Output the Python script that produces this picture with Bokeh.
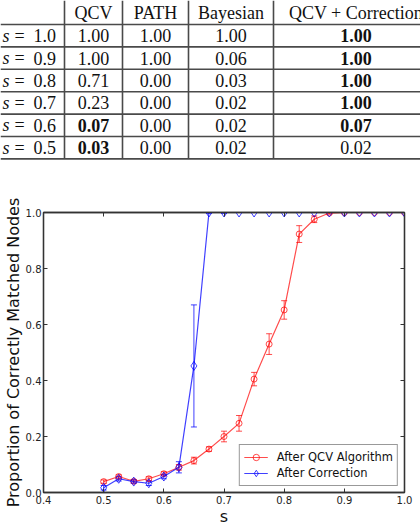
from bokeh.plotting import figure
from bokeh.models import (ColumnDataSource, Range1d, LinearAxis, FixedTicker,
                          PrintfTickFormatter, Whisker, TeeHead, Legend, LegendItem)
from bokeh.core.properties import value
from bokeh.embed import file_html
from bokeh.resources import INLINE

# ---------------- table data ----------------
ROW_S = ["1.0", "0.9", "0.8", "0.7", "0.6", "0.5"]
HEADERS = ["QCV", "PATH", "Bayesian", "QCV + Correction"]
QCV_TAB = [1.00, 1.00, 0.71, 0.23, 0.07, 0.03]
PATH_TAB = [1.00, 1.00, 0.00, 0.00, 0.00, 0.00]
BAYES_TAB = [1.00, 0.06, 0.03, 0.02, 0.02, 0.02]
CORR_TAB = [1.00, 1.00, 1.00, 1.00, 0.07, 0.02]
QCV_BOLD = [False, False, False, False, True, True]
PATH_BOLD = [False] * 6
BAYES_BOLD = [False] * 6
CORR_BOLD = [True, True, True, True, True, False]

# ---------------- chart data ----------------
S = [0.5, 0.525, 0.55, 0.575, 0.6, 0.625, 0.65, 0.675, 0.7, 0.725, 0.75,
     0.775, 0.8, 0.825, 0.85, 0.875, 0.9, 0.925, 0.95, 0.975, 1.0]
QCV_Y = [0.039, 0.057, 0.040, 0.049, 0.067, 0.090, 0.114, 0.155, 0.200, 0.247, 0.405,
         0.530, 0.652, 0.923, 0.976, 0.998, 1.0, 1.0, 1.0, 1.0, 1.0]
QCV_ERR = [0.006, 0.006, 0.006, 0.007, 0.007, 0.010, 0.012, 0.008, 0.019, 0.028, 0.024,
           0.037, 0.033, 0.030, 0.012, 0.004, 0.0, 0.0, 0.0, 0.0, 0.0]
CORR_Y = [0.017, 0.049, 0.039, 0.033, 0.057, 0.090, 0.452, 1.0, 1.0, 1.0, 1.0,
          1.0, 1.0, 1.0, 1.0, 1.0, 1.0, 1.0, 1.0, 1.0, 1.0]
CORR_ERR = [0.008, 0.008, 0.006, 0.008, 0.008, 0.020, 0.218, 0.003, 0.003, 0.0, 0.0,
            0.0, 0.0, 0.0, 0.0, 0.0, 0.0, 0.0, 0.0, 0.0, 0.0]
X_TICKS = [0.4, 0.5, 0.6, 0.7, 0.8, 0.9, 1.0]
Y_TICKS = [0.0, 0.2, 0.4, 0.6, 0.8, 1.0]
SERIES_NAMES = ["After QCV Algorithm", "After Correction"]

# ---------------- table figure ----------------
SERIF = value("Liberation Serif")
TW, TH = 420, 180
HEADER_H = 24.0
ROW_H = 22.4
COL_EDGES = [64, 122, 188, 273, 438]
FS = "18px"
LINE_C = "#4a4a4a"

tab = figure(width=TW, height=TH, x_range=Range1d(0, TW), y_range=Range1d(TH, 0),
             output_backend="svg", toolbar_location=None, x_axis_type=None,
             y_axis_type=None, min_border=0, min_border_left=0, min_border_right=0,
             min_border_top=0, min_border_bottom=0, outline_line_color=None)

n = len(ROW_S)
h_ys = [HEADER_H + ROW_H * i for i in range(n + 1)]
tab.segment(x0=[0] * len(h_ys), x1=[TW] * len(h_ys), y0=h_ys, y1=h_ys,
            line_color=LINE_C, line_width=1.6)
tab.segment(x0=COL_EDGES[:4], x1=COL_EDGES[:4], y0=[0] * 4, y1=[h_ys[-1]] * 4,
            line_color=LINE_C, line_width=1.6)

centers = [(COL_EDGES[i] + COL_EDGES[i + 1]) / 2 for i in range(4)]
tab.text(x=centers, y=[HEADER_H / 2] * 4, text=HEADERS, text_font=SERIF,
         text_font_size=FS, text_align="center", text_baseline="middle", text_color="#111")

row_y = [HEADER_H + ROW_H * (i + 0.5) for i in range(n)]
tab.text(x=[2] * n, y=row_y, text=["s"] * n, text_font=SERIF, text_font_style="italic",
         text_font_size=FS, text_align="left", text_baseline="middle", text_color="#111")
tab.text(x=[14] * n, y=row_y, text=["="] * n, text_font=SERIF,
         text_font_size=FS, text_align="left", text_baseline="middle", text_color="#111")
tab.text(x=[33] * n, y=row_y, text=ROW_S, text_font=SERIF,
         text_font_size=FS, text_align="left", text_baseline="middle", text_color="#111")

cells_x, cells_y, cells_t, cells_s = [], [], [], []
for ci, (vals, bold) in enumerate([(QCV_TAB, QCV_BOLD), (PATH_TAB, PATH_BOLD),
                                    (BAYES_TAB, BAYES_BOLD), (CORR_TAB, CORR_BOLD)]):
    for ri in range(n):
        cells_x.append(centers[ci])
        cells_y.append(row_y[ri])
        cells_t.append("%.2f" % vals[ri])
        cells_s.append("bold" if bold[ri] else "normal")
csrc = ColumnDataSource(dict(x=cells_x, y=cells_y, t=cells_t, s=cells_s))
tab.text(x="x", y="y", text="t", text_font_style="s", source=csrc, text_font=SERIF,
         text_font_size=FS, text_align="center", text_baseline="middle", text_color="#111")

# ---------------- chart figure ----------------
SANS = "DejaVu Sans"
AX_C = "#333333"
p = figure(width=420, height=348, x_range=Range1d(0.4, 1.0), y_range=Range1d(0.0, 1.0),
           output_backend="svg", toolbar_location=None,
           min_border_left=43, min_border_right=16, min_border_top=32, min_border_bottom=36,
           x_axis_label="s", y_axis_label="Proportion of Correctly Matched Nodes",
           outline_line_color=AX_C, outline_line_width=1.3)
p.grid.visible = False

p.add_layout(LinearAxis(), "above")
p.add_layout(LinearAxis(), "right")

for ax in p.axis:
    ax.axis_line_color = AX_C
    ax.axis_line_width = 1.3
    ax.major_tick_in = 4
    ax.major_tick_out = 0
    ax.minor_tick_line_color = None
    ax.major_tick_line_color = AX_C
    ax.major_label_text_font = SANS
    ax.major_label_text_font_size = "10px"
    ax.major_label_text_color = "#222"
    ax.formatter = PrintfTickFormatter(format="%.1f")
    ax.axis_label_text_font = SANS
    ax.axis_label_text_font_style = "normal"
    ax.axis_label_text_font_size = "16px"
    ax.axis_label_text_color = "#111"

for ax in p.xaxis:
    ax.ticker = FixedTicker(ticks=X_TICKS)
for ax in p.yaxis:
    ax.ticker = FixedTicker(ticks=Y_TICKS)

for ax in (p.above[0], p.right[0]):
    ax.formatter = PrintfTickFormatter(format="")
    ax.major_label_standoff = 0

p.below[0].major_label_standoff = 3
p.below[0].axis_label_standoff = 0
p.left[0].major_label_standoff = 2
p.left[0].axis_label_standoff = 0

RED = "#ff0000"
BLUE = "#0000ff"

def series(y, err, color, marker, size, alpha):
    src = ColumnDataSource(dict(x=S, y=y,
                                lo=[a - b for a, b in zip(y, err)],
                                hi=[a + b for a, b in zip(y, err)]))
    w = Whisker(source=src, base="x", upper="hi", lower="lo",
                line_color=color, line_alpha=alpha, line_width=1,
                upper_head=TeeHead(size=6, line_color=color, line_alpha=alpha, line_width=1),
                lower_head=TeeHead(size=6, line_color=color, line_alpha=alpha, line_width=1))
    p.add_layout(w)
    ln = p.line("x", "y", source=src, line_color=color, line_alpha=alpha, line_width=1.2)
    sc = p.scatter("x", "y", source=src, marker=marker, size=size, fill_color=None,
                   line_color=color, line_alpha=alpha, line_width=1)
    return [ln, sc]

r_red = series(QCV_Y, QCV_ERR, RED, "circle", 6, 0.7)
r_blue = series(CORR_Y, CORR_ERR, BLUE, "diamond", 9, 0.75)

legend = Legend(items=[LegendItem(label=SERIES_NAMES[0], renderers=r_red),
                       LegendItem(label=SERIES_NAMES[1], renderers=r_blue)],
                location="bottom_right", margin=6, padding=4, spacing=0,
                label_text_font=SANS, label_text_font_size="11.5px",
                label_text_color="#111", label_standoff=9,
                glyph_width=24, glyph_height=16, label_height=16,
                border_line_color="#333", border_line_width=1.3,
                background_fill_color="white", background_fill_alpha=1)
p.add_layout(legend)

open("out.html", "w").write(file_html([tab, p], INLINE))
